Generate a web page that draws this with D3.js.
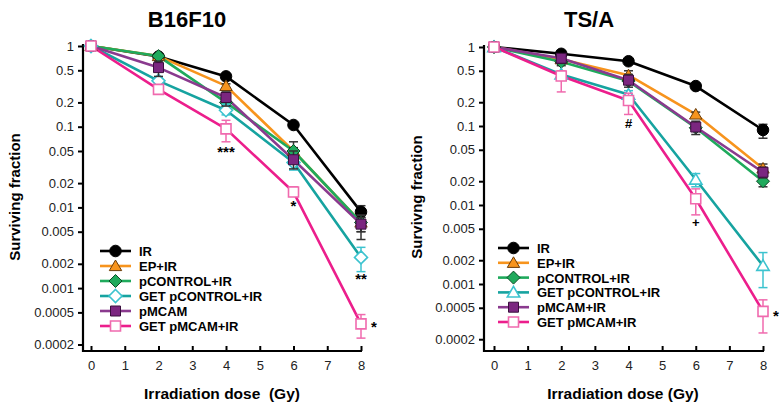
<!DOCTYPE html>
<html><head><meta charset="utf-8">
<script src="https://cdn.jsdelivr.net/npm/d3@7"></script>
<style>
body{margin:0;background:#fff;}
text{font-family:Arial,"Liberation Sans",sans-serif;}
</style></head>
<body>
<svg id="chart" width="782" height="410"></svg>
<script>
// ---------- data ----------
const doses = [0, 2, 4, 6, 8];
const doseTicks = [0, 1, 2, 3, 4, 5, 6, 7, 8];
const yTickValues = [1, 0.5, 0.2, 0.1, 0.05, 0.02, 0.01, 0.005, 0.002, 0.001, 0.0005, 0.0002];
const yTickLabels = ["1", "0.5", "0.2", "0.1", "0.05", "0.02", "0.01", "0.005", "0.002", "0.001", "0.0005", "0.0002"];

// B16F10
const b16Names = ["IR", "EP+IR", "pCONTROL+IR", "GET pCONTROL+IR", "pMCAM", "GET pMCAM+IR"];
const b16_IR = [1, 0.74, 0.42, 0.105, 0.0088];
const b16_EP = [1, 0.75, 0.32, 0.05, 0.0065];
const b16_pCON = [1, 0.75, 0.2, 0.05, 0.0065];
const b16_GETpCON = [1, 0.37, 0.16, 0.036, 0.0024];
const b16_pMCAM = [1, 0.54, 0.23, 0.039, 0.0062];
const b16_GETpMCAM = [1, 0.29, 0.094, 0.0155, 0.00036];
const b16_IR_lo = [1, 0.72, 0.4, 0.1, 0.0075], b16_IR_hi = [1, 0.76, 0.44, 0.11, 0.0105];
const b16_EP_lo = [1, 0.72, 0.3, 0.045, 0.005], b16_EP_hi = [1, 0.78, 0.34, 0.055, 0.008];
const b16_pCON_lo = [1, 0.72, 0.18, 0.04, 0.005], b16_pCON_hi = [1, 0.78, 0.22, 0.065, 0.008];
const b16_GETpCON_lo = [1, 0.34, 0.14, 0.029, 0.0016], b16_GETpCON_hi = [1, 0.4, 0.19, 0.045, 0.0032];
const b16_pMCAM_lo = [1, 0.42, 0.18, 0.03, 0.004], b16_pMCAM_hi = [1, 0.65, 0.27, 0.05, 0.0075];
const b16_GETpMCAM_lo = [1, 0.27, 0.065, 0.014, 0.00024], b16_GETpMCAM_hi = [1, 0.32, 0.12, 0.018, 0.00047];

// TS/A
const tsaNames = ["IR", "EP+IR", "pCONTROL+IR", "GET pCONTROL+IR", "pMCAM+IR", "GET pMCAM+IR"];
const tsa_IR = [1, 0.82, 0.66, 0.32, 0.089];
const tsa_EP = [1, 0.7, 0.44, 0.14, 0.029];
const tsa_pCON = [1, 0.65, 0.37, 0.095, 0.02];
const tsa_GETpCON = [1, 0.45, 0.25, 0.021, 0.0017];
const tsa_pMCAM = [1, 0.72, 0.38, 0.097, 0.026];
const tsa_GETpMCAM = [1, 0.43, 0.21, 0.012, 0.00045];
const tsa_IR_lo = [1, 0.75, 0.62, 0.3, 0.07], tsa_IR_hi = [1, 0.9, 0.7, 0.34, 0.105];
const tsa_EP_lo = [1, 0.66, 0.38, 0.13, 0.025], tsa_EP_hi = [1, 0.74, 0.5, 0.15, 0.033];
const tsa_pCON_lo = [1, 0.58, 0.34, 0.09, 0.017], tsa_pCON_hi = [1, 0.72, 0.4, 0.1, 0.023];
const tsa_GETpCON_lo = [1, 0.42, 0.22, 0.017, 0.0009], tsa_GETpCON_hi = [1, 0.48, 0.28, 0.025, 0.0025];
const tsa_pMCAM_lo = [1, 0.62, 0.31, 0.078, 0.022], tsa_pMCAM_hi = [1, 0.8, 0.45, 0.115, 0.03];
const tsa_GETpMCAM_lo = [1, 0.27, 0.14, 0.0075, 0.00024], tsa_GETpMCAM_hi = [1, 0.5, 0.26, 0.016, 0.00063];

// significance annotations: [text, dose, value, side]
const b16Notes = [["***", 4, 0.052, 0], ["*", 6, 0.011, 0], ["**", 8, 0.00137, 0], ["*", 8, 0.00035, 1]];
const tsaNotes = [["#", 4, 0.109, 0], ["+", 6, 0.0061, 0], ["*", 8, 0.00042, 1]];

// ---------- styles ----------
const styles = [
  {line: "#000000", fill: "#000000", stroke: "#000000", shape: "circle"},
  {line: "#F7941D", fill: "#F7941D", stroke: "#6b3d0a", shape: "triangle"},
  {line: "#1FAA5C", fill: "#1FAA5C", stroke: "#0b4a25", shape: "diamond"},
  {line: "#16A3A0", fill: "#ffffff", stroke: "#3CC3CF", shape: "diamond"},
  {line: "#8A3A8E", fill: "#7B2680", stroke: "#3a0f3d", shape: "square"},
  {line: "#EC1E8C", fill: "#ffffff", stroke: "#F06AAE", shape: "square"}
];

const svg = d3.select("#chart");

function markerPath(shape) {
  if (shape === "circle") return d3.symbol(d3.symbolCircle, 105)();
  if (shape === "triangle") return "M0,-6L6.2,4.6L-6.2,4.6Z";
  if (shape === "diamond") return "M0,-6.5L6.5,0L0,6.5L-6.5,0Z";
  if (shape === "square") return "M-5,-5H5V5H-5Z";
}

function panel(cfg) {
  const g = svg.append("g");
  const x = d3.scaleLinear().domain([0, 8]).range([cfg.x0, cfg.x8]);
  const y = d3.scaleLog().domain([1, Math.pow(10, -cfg.decades)]).range([cfg.yTop, cfg.yBottom]);
  const xLeft = cfg.axisX, yBase = cfg.yBottom;

  // axes
  const yAxis = d3.axisLeft(y).tickValues(yTickValues)
    .tickFormat((d, i) => yTickLabels[i]).tickSize(5).tickSizeOuter(0).tickPadding(4);
  const ya = g.append("g").attr("transform", `translate(${xLeft},0)`).call(yAxis);
  ya.select(".domain").remove();
  ya.selectAll(".tick line").attr("stroke-width", 2);
  ya.selectAll(".tick text").attr("font-size", 13).attr("fill", "#222");

  const xAxis = d3.axisBottom(x).tickValues(doseTicks).tickSize(-5).tickSizeOuter(0).tickPadding(10);
  const xa = g.append("g").attr("transform", `translate(0,${yBase})`).call(xAxis);
  xa.select(".domain").remove();
  xa.selectAll(".tick line").attr("stroke-width", 2);
  xa.selectAll(".tick text").attr("font-size", 13).attr("fill", "#222");

  g.append("line").attr("x1", xLeft).attr("x2", xLeft).attr("y1", cfg.yTop - 2).attr("y2", yBase + 1)
    .attr("stroke", "#000").attr("stroke-width", 2.2);
  g.append("line").attr("x1", xLeft - 1).attr("x2", x(8) + 1).attr("y1", yBase).attr("y2", yBase)
    .attr("stroke", "#000").attr("stroke-width", 2.2);

  // titles
  g.append("text").attr("x", cfg.titleX).attr("y", 27).attr("text-anchor", "middle")
    .attr("font-size", 22).attr("font-weight", "bold").text(cfg.title);
  g.append("text").attr("x", cfg.xlabX).attr("y", 399).attr("text-anchor", "middle")
    .attr("font-size", 15.5).attr("font-weight", "bold").attr("xml:space", "preserve").text(cfg.xlabel);
  g.append("text").attr("transform", `translate(${cfg.ylabX},${cfg.ylabY}) rotate(-90)`)
    .attr("text-anchor", "middle").attr("font-size", 15).attr("font-weight", "bold").text(cfg.ylabel);

  const line = d3.line().x((d, i) => x(doses[i])).y(d => y(d));

  // lines
  cfg.series.forEach((s, k) => {
    g.append("path").datum(s.v).attr("d", line).attr("fill", "none")
      .attr("stroke", s.st.line).attr("stroke-width", 2.6).attr("stroke-linejoin", "round");
  });
  // error bars + markers
  cfg.series.forEach((s, k) => {
    const eb = g.append("g").attr("stroke", s.st.fill === "#ffffff" ? s.st.stroke : "#333").attr("stroke-width", 1.5);
    doses.forEach((d, i) => {
      if (s.lo[i] === s.hi[i]) return;
      const xx = x(d), y1 = y(s.lo[i]), y2 = y(s.hi[i]);
      eb.append("line").attr("x1", xx).attr("x2", xx).attr("y1", y1).attr("y2", y2);
      eb.append("line").attr("x1", xx - 4.5).attr("x2", xx + 4.5).attr("y1", y1).attr("y2", y1);
      eb.append("line").attr("x1", xx - 4.5).attr("x2", xx + 4.5).attr("y1", y2).attr("y2", y2);
    });
    g.selectAll(null).data(s.v).enter().append("path")
      .attr("transform", (v, i) => `translate(${x(doses[i])},${y(v)})`)
      .attr("d", markerPath(s.st.shape)).attr("fill", s.st.fill)
      .attr("stroke", s.st.stroke).attr("stroke-width", s.st.fill === "#ffffff" ? 1.6 : 1);
  });

  // annotations
  cfg.notes.forEach(n => {
    const xx = x(n[1]) + (n[3] ? 10 : 0);
    g.append("text").attr("x", xx).attr("y", y(n[2]) + (n[0].indexOf("*") >= 0 ? 7 : 5))
      .attr("text-anchor", n[3] ? "start" : "middle").attr("font-size", n[0].indexOf("*") >= 0 ? 15 : 13)
      .attr("font-weight", "bold").text(n[0]);
  });

  // legend
  cfg.series.forEach((s, k) => {
    const ly = cfg.legY + k * cfg.legDy;
    g.append("line").attr("x1", cfg.legX).attr("x2", cfg.legX + 31).attr("y1", ly).attr("y2", ly)
      .attr("stroke", s.st.line).attr("stroke-width", 2.6);
    g.append("path").attr("transform", `translate(${cfg.legX + 15.5},${ly})`)
      .attr("d", markerPath(s.st.shape)).attr("fill", s.st.fill)
      .attr("stroke", s.st.stroke).attr("stroke-width", s.st.fill === "#ffffff" ? 1.6 : 1);
    g.append("text").attr("x", cfg.legX + 39).attr("y", ly + 5).attr("font-size", 13)
      .attr("font-weight", "bold").text(s.name);
  });
}

const b16Series = [
  {name: b16Names[0], v: b16_IR, lo: b16_IR_lo, hi: b16_IR_hi, st: styles[0]},
  {name: b16Names[1], v: b16_EP, lo: b16_EP_lo, hi: b16_EP_hi, st: styles[1]},
  {name: b16Names[2], v: b16_pCON, lo: b16_pCON_lo, hi: b16_pCON_hi, st: styles[2]},
  {name: b16Names[3], v: b16_GETpCON, lo: b16_GETpCON_lo, hi: b16_GETpCON_hi, st: styles[3]},
  {name: b16Names[4], v: b16_pMCAM, lo: b16_pMCAM_lo, hi: b16_pMCAM_hi, st: styles[4]},
  {name: b16Names[5], v: b16_GETpMCAM, lo: b16_GETpMCAM_lo, hi: b16_GETpMCAM_hi, st: styles[5]}
];
const tsaSeries = [
  {name: tsaNames[0], v: tsa_IR, lo: tsa_IR_lo, hi: tsa_IR_hi, st: styles[0]},
  {name: tsaNames[1], v: tsa_EP, lo: tsa_EP_lo, hi: tsa_EP_hi, st: styles[1]},
  {name: tsaNames[2], v: tsa_pCON, lo: tsa_pCON_lo, hi: tsa_pCON_hi, st: styles[2]},
  {name: tsaNames[3], v: tsa_GETpCON, lo: tsa_GETpCON_lo, hi: tsa_GETpCON_hi, st: Object.assign({}, styles[3], {shape: "triangle"})},
  {name: tsaNames[4], v: tsa_pMCAM, lo: tsa_pMCAM_lo, hi: tsa_pMCAM_hi, st: styles[4]},
  {name: tsaNames[5], v: tsa_GETpMCAM, lo: tsa_GETpMCAM_lo, hi: tsa_GETpMCAM_hi, st: styles[5]}
];

panel({title: "B16F10", titleX: 187, xlabel: "Irradiation dose  (Gy)", xlabX: 222,
  ylabel: "Surviving fraction", ylabX: 20, ylabY: 197,
  x0: 91, x8: 361, axisX: 83, yTop: 46, yBottom: 351, decades: 305 / 80.7,
  series: b16Series, notes: b16Notes, legX: 100, legY: 251, legDy: 15});
panel({title: "TS/A", titleX: 589, xlabel: "Irradiation dose (Gy)", xlabX: 623,
  ylabel: "Survivng fraction", ylabX: 422, ylabY: 197,
  x0: 494, x8: 763, axisX: 484, yTop: 47, yBottom: 351, decades: 304 / 79,
  series: tsaSeries, notes: tsaNotes, legX: 498, legY: 248, legDy: 14.8});
</script>
</body></html>
